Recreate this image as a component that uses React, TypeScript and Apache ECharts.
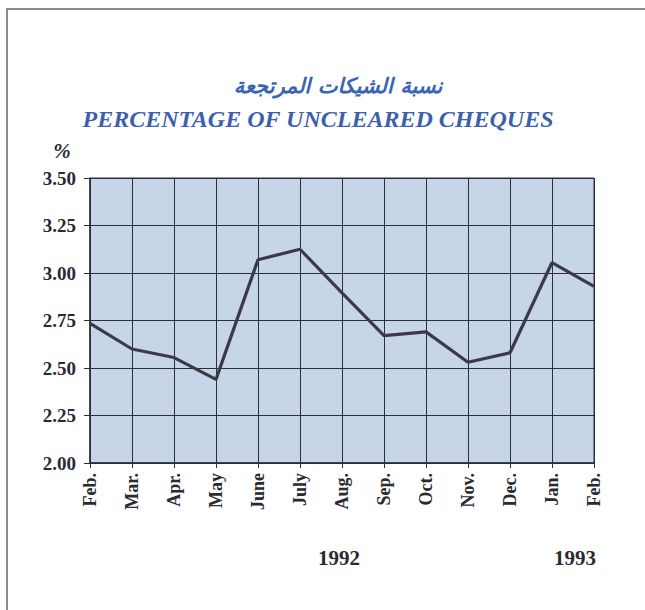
import React, { useEffect, useRef } from "react";
import * as echarts from "echarts";

const months = ["Feb.", "Mar.", "Apr.", "May", "June", "July", "Aug.", "Sep.", "Oct.", "Nov.", "Dec.", "Jan.", "Feb."];
const ratios = [2.735, 2.6, 2.555, 2.44, 3.07, 3.125, 2.895, 2.67, 2.69, 2.53, 2.58, 3.055, 2.93];
const yearLabels = ["1992", "1993"];
const titleAr = "نسبة الشيكات المرتجعة";
const titleEn = "PERCENTAGE OF UNCLEARED CHEQUES";

const SERIF = "'Liberation Serif', 'Times New Roman', serif";

export default function App() {
  const ref = useRef<HTMLDivElement>(null);
  useEffect(() => {
    if (!ref.current) return;
    const chart = echarts.init(ref.current, undefined, { renderer: "svg" });
    chart.setOption({
      animation: false,
      backgroundColor: "#ffffff",
      grid: {
        left: 90,
        right: 51,
        top: 178,
        bottom: 147,
        show: true,
        backgroundColor: "#c7d5e9",
        borderColor: "#2e2e38",
        borderWidth: 1,
      },
      xAxis: {
        type: "category",
        data: months,
        boundaryGap: false,
        axisLine: { show: true, lineStyle: { color: "#2e2e38", width: 1.5 } },
        axisTick: { show: true, length: 5, inside: false, lineStyle: { color: "#2e2e38" } },
        axisLabel: {
          rotate: 90,
          margin: 10,
          fontFamily: SERIF,
          fontWeight: "bold",
          fontSize: 18,
          color: "#2a2a30",
          interval: 0,
        },
        splitLine: { show: true, lineStyle: { color: "#2e2e38", width: 1 } },
      },
      yAxis: {
        type: "value",
        min: 2,
        max: 3.5,
        interval: 0.25,
        axisLine: { show: true, lineStyle: { color: "#2e2e38", width: 1.5 } },
        axisTick: { show: true, length: 6, lineStyle: { color: "#2e2e38" } },
        axisLabel: {
          margin: 14,
          fontFamily: SERIF,
          fontWeight: "bold",
          fontSize: 19,
          color: "#2a2a30",
          formatter: (v: number) => v.toFixed(2),
        },
        splitLine: { show: true, lineStyle: { color: "#2e2e38", width: 1 } },
      },
      series: [
        {
          type: "line",
          data: ratios,
          symbol: "none",
          lineStyle: { color: "#3d3a48", width: 3.2 },
        },
      ],
      graphic: [
        {
          type: "polyline",
          shape: { points: [[7, 612], [7, 9], [650, 9]] },
          style: { stroke: "#8a8a8a", lineWidth: 2, fill: null },
        },
        {
          type: "text",
          x: 338,
          y: 86,
          style: {
            text: titleAr,
            font: "italic bold 21px 'DejaVu Sans', 'Noto Sans', sans-serif",
            fill: "#3a64b4",
            align: "center",
            verticalAlign: "middle",
          },
        },
        {
          type: "text",
          x: 318,
          y: 119,
          style: {
            text: titleEn,
            font: "italic bold 24px 'Liberation Serif', 'Times New Roman', serif",
            fill: "#3c5fae",
            align: "center",
            verticalAlign: "middle",
          },
        },
        {
          type: "text",
          x: 62,
          y: 151,
          style: {
            text: "%",
            font: "italic bold 21px 'Liberation Serif', serif",
            fill: "#2a2a30",
            align: "center",
            verticalAlign: "middle",
          },
        },
        {
          type: "text",
          x: 339,
          y: 558,
          style: {
            text: yearLabels[0],
            font: "bold 21px 'Liberation Serif', serif",
            fill: "#2a2a30",
            align: "center",
            verticalAlign: "middle",
          },
        },
        {
          type: "text",
          x: 575,
          y: 558,
          style: {
            text: yearLabels[1],
            font: "bold 21px 'Liberation Serif', serif",
            fill: "#2a2a30",
            align: "center",
            verticalAlign: "middle",
          },
        },
      ],
    });
    return () => chart.dispose();
  }, []);
  return (
    <div
      ref={ref}
      style={{ position: "fixed", left: 0, top: 0, width: 645, height: 610 }}
    />
  );
}
